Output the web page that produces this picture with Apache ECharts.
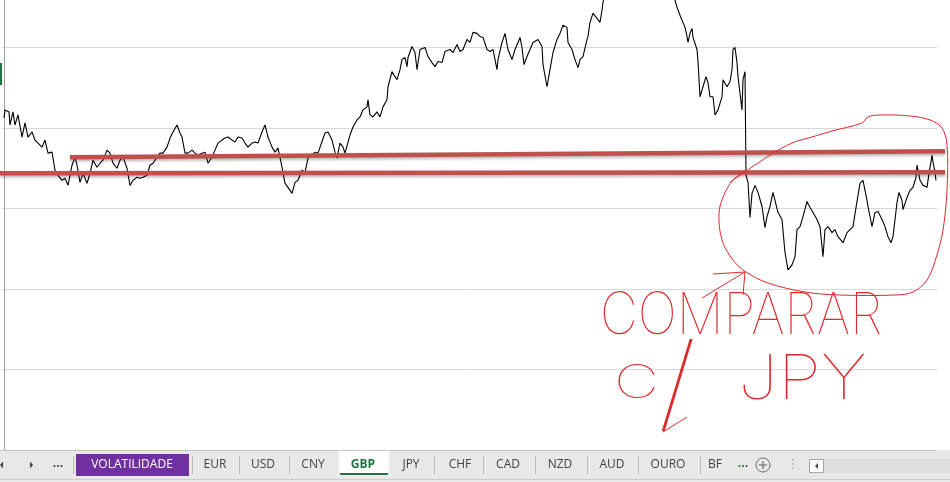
<!DOCTYPE html>
<html>
<head>
<meta charset="utf-8">
<script src="https://cdn.jsdelivr.net/npm/echarts@6/dist/echarts.min.js"></script>
<style>
html,body{margin:0;padding:0;background:#fff;}
#chart{width:950px;height:482px;}
</style>
</head>
<body>
<div id="chart"></div>
<script>
// dias de pregao (indice) e cotacao do GBP
var days = [0,1,5,6,9,11,14,18,21,24,28,31,34,38,41,44,48,49,51,54,
	58,61,64,68,71,73,76,79,83,86,89,93,96,99,103,106,109,113,116,119,
	123,126,129,133,136,139,143,146,149,153,156,159,163,166,169,173,176,178,181,184,
	188,191,194,198,201,204,208,211,214,218,221,224,228,231,234,238,241,244,248,251,
	254,258,261,264,268,271,274,278,281,284,288,291,294,298,301,304,308,311,314,316,
	321,324,328,331,333,336,339,341,346,349,353,356,359,363,364,366,369,373,376,379,
	383,384,388,391,393,396,398,401,403,404,408,411,413,416,421,424,428,431,434,438,
	441,446,449,453,456,459,463,466,469,473,476,479,483,486,489,493,494,498,501,504,
	508,511,514,516,518,520,523,526,529,534,538,539,543,546,549,553,556,559,563,564,
	568,571,574,576,579,583,584,586,589,593,596,598,599,
	602,608,616,624,632,641,651,661,668,
	671,673,676,678,681,683,684,686,688,689,693,694,696,699,702,704,706,709,711,714,
	718,719,723,726,728,729,731,733,734,738,739,741,742,744,746,748,751,754,758,761,
	763,766,769,771,774,778,781,784,788,791,793,796,799,803,806,809,813,816,819,821,
	824,828,831,834,839,843,846,849,853,856,859,863,864,868,871,874,878,881,884,887,
	889,893,895,898,899,903,906,909,912,913,916,919,923,924,928,929,931,932];
var gbp = [330,338,336,323,336,323,333,311,325,311,316,308,305,301,308,295,296,290,278,273,
	268,270,263,283,291,283,266,275,265,275,288,281,285,288,298,295,285,280,288,291,
	280,263,268,271,270,271,273,283,285,291,295,295,301,310,316,323,315,311,295,295,
	298,295,293,295,296,285,291,298,305,308,310,311,308,306,311,310,305,301,305,306,
	305,316,323,311,301,296,300,281,265,261,255,266,268,278,276,290,293,296,295,295,
	315,316,308,296,290,305,301,295,313,321,328,331,338,341,348,333,331,336,331,341,
	348,361,376,371,368,378,388,390,381,390,401,395,378,398,400,391,385,381,386,385,
	396,398,395,403,396,398,408,405,415,414,411,410,398,396,398,378,388,405,414,398,
	388,398,405,410,400,383,391,398,405,408,401,383,361,378,395,408,414,422,420,405,
	398,388,380,388,391,408,411,425,434,429,425,437,445,
	457,467,462,475,465,472,459,467,455,
	447,440,432,427,420,411,405,414,419,410,398,386,351,361,371,365,351,351,333,338,
	351,368,361,366,378,398,400,385,371,338,368,376,273,266,231,255,263,256,242,221,
	232,242,256,255,236,229,196,179,184,192,219,222,232,247,241,236,229,222,192,219,
	222,216,219,212,206,216,219,222,247,265,268,248,242,222,236,237,229,222,212,206,
	212,246,256,248,239,251,258,261,271,283,268,263,261,268,293,286,276,268];

// linhas vermelhas (suporte / resistencia) desenhadas por cima
var upperDays = [66, 941];
var upperVals = [291, 297];
var lowerDays = [-4, 941];
var lowerVals = [275, 276];

// abas da planilha
var sheetTabs = ['VOLATILIDADE','EUR','USD','CNY','GBP','JPY','CHF','CAD','NZD','AUD','OURO','BF'];
var activeTab = 'GBP';
var noteWord = 'COMPARAR';
var noteC = 'C';
var noteSlash = '/';
var noteCcy = 'JPY';

var tabCenters = [132,215,263,313,363,411,460,508,560,612,668,715];
var tabSeps = [73,192,239,289,434,483,535,587,638,700];

var Y_MAX = 447.2; // valor no topo da janela
var RED = '#de2a2c';
var tabFont = "12px 'Open Sans', 'Noto Sans', sans-serif";
var handFont = "Inter, 'DejaVu Sans', sans-serif";

function pairs(xs, ys){
	return xs.map(function(x, i){ return [x, ys[i]]; });
}

var els = [];
// barra das abas
els.push({type:'rect', z:100, shape:{x:0, y:450, width:950, height:32}, style:{fill:'#e8e8e8'}});
els.push({type:'line', z:101, shape:{x1:0, y1:450.5, x2:936, y2:450.5}, style:{stroke:'#c4c4c4', lineWidth:1}});
els.push({type:'line', z:101, shape:{x1:0, y1:479.5, x2:950, y2:479.5}, style:{stroke:'#cdcdcd', lineWidth:1}});
els.push({type:'rect', z:101, shape:{x:76, y:454, width:113, height:22}, style:{fill:'#7030a0'}});
els.push({type:'rect', z:101, shape:{x:339, y:451, width:50, height:25}, style:{fill:'#ffffff'}});
els.push({type:'rect', z:102, shape:{x:340, y:473, width:48, height:2}, style:{fill:'#217346'}});
tabSeps.forEach(function(x){
	els.push({type:'line', z:101, shape:{x1:x+0.5, y1:456, x2:x+0.5, y2:474}, style:{stroke:'#bdbdbd', lineWidth:1}});
});
sheetTabs.forEach(function(name, i){
	var col = '#444444', weight = 'normal';
	if (name === 'VOLATILIDADE') col = '#ffffff';
	if (name === activeTab) { col = '#217346'; weight = 'bold'; }
	els.push({type:'text', z:103, x:tabCenters[i], y:465, style:{
		text:name, fill:col, font: weight + ' ' + tabFont, textAlign:'center', textVerticalAlign:'middle'}});
});
// setas de navegacao e controles
els.push({type:'polygon', z:103, shape:{points:[[3,461.5],[0,465],[3,468.5]]}, style:{fill:'#444'}});
els.push({type:'polygon', z:103, shape:{points:[[30,461.5],[33,465],[30,468.5]]}, style:{fill:'#444'}});
els.push({type:'text', z:103, x:58, y:464, style:{text:'...', fill:'#444', font:'bold ' + tabFont, textAlign:'center', textVerticalAlign:'middle'}});
els.push({type:'text', z:103, x:743, y:464, style:{text:'...', fill:'#217346', font:'bold ' + tabFont, textAlign:'center', textVerticalAlign:'middle'}});
els.push({type:'circle', z:103, shape:{cx:763, cy:465, r:7}, style:{fill:'none', stroke:'#707070', lineWidth:1}});
els.push({type:'line', z:103, shape:{x1:759, y1:465, x2:767, y2:465}, style:{stroke:'#707070', lineWidth:1.2}});
els.push({type:'line', z:103, shape:{x1:763, y1:461, x2:763, y2:469}, style:{stroke:'#707070', lineWidth:1.2}});
els.push({type:'text', z:103, x:793, y:465, style:{text:'\u22ee', fill:'#b0b0b0', font:'13px DejaVu Sans', textAlign:'center', textVerticalAlign:'middle'}});
els.push({type:'rect', z:102, shape:{x:823, y:459, width:127, height:14}, style:{fill:'#dedede'}});
els.push({type:'rect', z:103, shape:{x:809.5, y:459.5, width:14, height:13}, style:{fill:'#ffffff', stroke:'#a6a6a6', lineWidth:1}});
els.push({type:'polygon', z:104, shape:{points:[[818,463],[815,466],[818,469]]}, style:{fill:'#444'}});
// indicador verde da linha selecionada
els.push({type:'rect', z:50, shape:{x:0, y:63, width:2, height:22}, style:{fill:'#217346'}});

// anotacao a mao
els.push({type:'polyline', z:60, shape:{smooth:0.35, points:[
	[730,182],[742,174],[755,165],[772,154],[792,143],[812,137],[832,131],[862,123],[868,117],
	[880,115],[910,116],[930,120],[942,128],[947,145],[947,190],[943,230],[936,258],[927,280],
	[913,292],[895,295],[840,295],[805,292],[768,283],[746,272],[733,260],[722,240],[719,213],
	[724,195],[733,180],[745,171]]}, style:{fill:'none', stroke:RED, lineWidth:1}});
els.push({type:'polyline', z:60, shape:{points:[[702,298],[745,272]]}, style:{stroke:RED, lineWidth:1, fill:'none'}});
els.push({type:'polyline', z:60, shape:{points:[[713,274],[745,272],[743,295]]}, style:{stroke:RED, lineWidth:1, fill:'none'}});
els.push({type:'polyline', z:60, shape:{points:[[663,432],[687,417]]}, style:{stroke:RED, lineWidth:1, fill:'none'}});
els.push({type:'text', z:60, x:600, y:317, scaleX:0.9, style:{text:noteWord, fill:RED, font:'100 58px ' + handFont, textAlign:'left', textVerticalAlign:'middle'}});
els.push({type:'text', z:60, x:614, y:384, scaleX:1.35, style:{text:noteC, fill:RED, font:'100 46px ' + handFont, textAlign:'left', textVerticalAlign:'middle'}});
els.push({type:'text', z:60, x:658, y:334, scaleX:1.35, scaleY:1.2, style:{text:noteSlash, fill:RED, font:'100 88px ' + handFont, textAlign:'left', textVerticalAlign:'top'}});
els.push({type:'text', z:60, x:738, y:380, scaleX:1.15, style:{text:noteCcy, fill:RED, font:'100 62px ' + handFont, textAlign:'left', textVerticalAlign:'middle'}});

var chart = echarts.init(document.getElementById('chart'), null, {renderer:'canvas'});
var option = {
	animation: false,
	backgroundColor: '#ffffff',
	grid: [
		{left:2, right:13, top:0, bottom:32, containLabel:false},
		{left:0, right:0, top:0, bottom:32, containLabel:false}
	],
	xAxis: [
		{type:'value', gridIndex:0, min:-2, max:933, show:true,
			axisLine:{show:false}, axisTick:{show:false}, axisLabel:{show:false}, splitLine:{show:false}},
		{type:'value', gridIndex:1, min:-4, max:946, show:false}
	],
	yAxis: [
		{type:'value', gridIndex:0, min:0, max:Y_MAX, interval:80,
			axisLine:{show:true, lineStyle:{color:'#a0a0a0', width:1}},
			axisTick:{show:false}, axisLabel:{show:false},
			splitLine:{show:true, showMaxLine:false, showMinLine:false, lineStyle:{color:'#d9d9d9', width:1}}},
		{type:'value', gridIndex:1, min:0, max:Y_MAX, show:false}
	],
	series: [
		{type:'line', name:'GBP', xAxisIndex:0, yAxisIndex:0, data:pairs(days, gbp),
			showSymbol:false, symbol:'none', clip:true,
			lineStyle:{color:'#000000', width:1.1}, z:5},
		{type:'line', name:'upper', xAxisIndex:1, yAxisIndex:1, data:pairs(upperDays, upperVals),
			symbol:'none', silent:true,
			lineStyle:{color:'#c0504d', width:4.5, shadowColor:'rgba(0,0,0,0.28)', shadowBlur:3, shadowOffsetY:2}, z:8},
		{type:'line', name:'lower', xAxisIndex:1, yAxisIndex:1, data:pairs(lowerDays, lowerVals),
			symbol:'none', silent:true,
			lineStyle:{color:'#c0504d', width:4.5, shadowColor:'rgba(0,0,0,0.28)', shadowBlur:3, shadowOffsetY:2}, z:8}
	],
	graphic: {elements: els}
};
chart.setOption(option);
</script>
</body>
</html>
